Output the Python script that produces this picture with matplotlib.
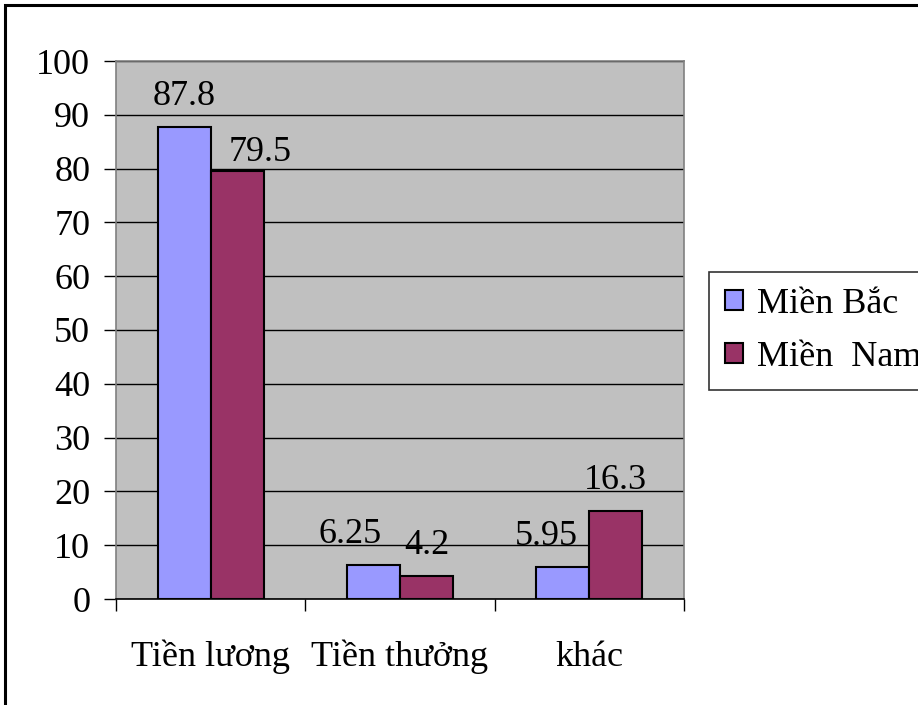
import matplotlib
matplotlib.use("Agg")
import matplotlib.pyplot as plt
from matplotlib.patches import Rectangle
import numpy as np

plt.rcParams['font.family'] = ['Liberation Serif', 'DejaVu Serif']

categories = ["Tiền lương", "Tiền thưởng", "khác"]
series_names = ["Miền Bắc", "Miền  Nam"]
mien_bac = [87.8, 6.25, 5.95]
mien_nam = [79.5, 4.2, 16.3]
y_ticks = [0, 10, 20, 30, 40, 50, 60, 70, 80, 90, 100]

colors = ["#9999FF", "#993366"]
# label nudges in pixels (dx, dy) for each series
label_dx = [[0, -23, -17], [23, 0, 0]]
label_dy = [[14, 14, 14], [2, 14, 14]]

W, H = 918, 705
fig = plt.figure(figsize=(W / 100, H / 100), dpi=100)
fig.patch.set_facecolor("white")

L, R, T, B = 116, 684, 61, 599
ax = fig.add_axes([L / W, 1 - B / H, (R - L) / W, (B - T) / H])
ax.set_facecolor("#C0C0C0")

FS = 26
x = np.arange(len(categories))
bw = 0.28
series = [mien_bac, mien_nam]
for i, vals in enumerate(series):
    xs = x + (i - 0.5) * bw
    bars = ax.bar(xs, vals, width=bw, color=colors[i], edgecolor="black",
                  linewidth=1.5, label=series_names[i], zorder=3)
    for j, (b, v) in enumerate(zip(bars, vals)):
        ax.annotate(f"{v:g}", (b.get_x() + b.get_width() / 2, v),
                    xytext=(label_dx[i][j] * 0.72, label_dy[i][j] * 0.72),
                    textcoords="offset points", ha="center", va="bottom",
                    fontsize=FS, zorder=4)

ax.set_xlim(-0.5, len(categories) - 0.5)
ax.set_ylim(0, 100)
ax.set_yticks(y_ticks)
ax.set_yticklabels([str(t) for t in y_ticks], fontsize=FS)
ax.yaxis.grid(True, color="black", linewidth=1.0, zorder=1)
ax.set_axisbelow(True)
ax.tick_params(axis="y", direction="out", length=8.5, width=1, pad=10)

ax.set_xticks(np.arange(-0.5, len(categories), 1.0))
ax.set_xticklabels([])
ax.tick_params(axis="x", direction="out", length=8.5, width=1)
for j, c in enumerate(categories):
    ax.text(j, -0.108, c, transform=ax.get_xaxis_transform(),
            ha="center", va="center", fontsize=FS)

for s in ["left", "top", "right"]:
    ax.spines[s].set_color("#808080")
    ax.spines[s].set_linewidth(1.2)
ax.spines["bottom"].set_color("black")
ax.spines["bottom"].set_linewidth(1.2)

leg = fig.legend(loc="upper left", bbox_to_anchor=(709 / W, 1 - 272 / H),
                 fontsize=FS, frameon=True, fancybox=False, edgecolor="black",
                 handlelength=0.48, handleheight=0.48, handletextpad=0.4,
                 labelspacing=0.55, borderpad=0.45, borderaxespad=0)
leg.get_frame().set_linewidth(1.2)

# outer chart frame
fig.patches.append(Rectangle((5 / W, -0.1), 1.2, 1.1 - 5 / H,
                             transform=fig.transFigure, fill=False,
                             edgecolor="black", linewidth=2.2))

fig.savefig("out.png", dpi=100)
